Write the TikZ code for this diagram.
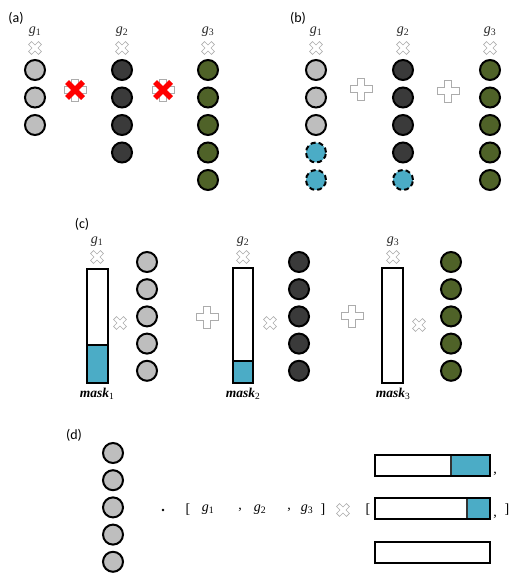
\documentclass[tikz,border=0pt]{standalone}
\usepackage{fontspec}
\setmainfont{Liberation Serif}
\newfontfamily\panelfont{Carlito}
\usepackage{xcolor}
\usetikzlibrary{positioning}

\definecolor{lgray}{HTML}{BEBEBE}
\definecolor{dgray}{HTML}{3A3A3A}
\definecolor{oliveg}{HTML}{4F6228}
\definecolor{maskblue}{HTML}{4BACC6}

\tikzset{
  unit/.style={circle, draw=black, line width=2pt, minimum size=20pt, inner sep=0pt},
  dropped/.style={unit, fill=maskblue, dash pattern=on 5pt off 3pt},
  panel/.style={font=\panelfont\fontsize{14}{14}\selectfont},
  glabel/.style={font=\fontsize{14}{14}\selectfont, text=black!85, inner sep=0pt},
  masklabel/.style={font=\bfseries\itshape\fontsize{13.5}{13.5}\selectfont, inner sep=0pt},
  sym/.style={font=\fontsize{14}{14}\selectfont, inner sep=0pt},
  maskbar/.style={draw=black, line width=2pt},
  opline/.style={draw=gray!65, fill=white, line width=0.6pt},
}

% outlined plus / cross sign: x, y, size, angle
\newcommand{\opsign}[4]{%
  \draw[opline, shift={(#1,#2)}, rotate=#4, scale=#3]
    (-0.3,-1) -- (0.3,-1) -- (0.3,-0.3) -- (1,-0.3) -- (1,0.3) -- (0.3,0.3)
    -- (0.3,1) -- (-0.3,1) -- (-0.3,0.3) -- (-1,0.3) -- (-1,-0.3) -- (-0.3,-0.3) -- cycle;}
\newcommand{\gname}[1]{\textit{g}\textsubscript{#1}}

\begin{document}
\begin{tikzpicture}[x=1pt, y=-1pt]
\useasboundingbox (0,0) rectangle (518,575);

% ---------------- (a) ----------------
\node[panel] (lab-a) at (16,18) {(a)};
\foreach \gx/\gi in {35/1, 122/2, 208/3}{
  \node[glabel] (ga\gi) at (\gx,32) {\gname{\gi}};
  \opsign{\gx}{48}{7}{45}
}
\foreach \k in {1,2,3}{\node[unit, fill=lgray] (a1-\k) at (35, 42.5+27.5*\k) {};}
\foreach \k in {1,...,4}{\node[unit, fill=dgray] (a2-\k) at (122, 42.5+27.5*\k) {};}
\foreach \k in {1,...,5}{\node[unit, fill=oliveg] (a3-\k) at (208, 42.5+27.5*\k) {};}
% rejected sums
\foreach \cx in {75, 163}{
  \opsign{\cx}{90}{11}{0}
  \draw[red, line width=5.5pt] (\cx-8,82) -- (\cx+8,98) (\cx-8,98) -- (\cx+8,82);
}

% ---------------- (b) ----------------
\node[panel] (lab-b) at (298,18) {(b)};
\foreach \gx/\gi in {316/1, 403/2, 490/3}{
  \node[glabel] (gb\gi) at (\gx,32) {\gname{\gi}};
  \opsign{\gx}{48}{7}{45}
}
\foreach \k in {1,2,3}{\node[unit, fill=lgray] (b1-\k) at (316, 42.5+27.5*\k) {};}
\foreach \k in {4,5}{\node[dropped] (b1-\k) at (316, 42.5+27.5*\k) {};}
\foreach \k in {1,...,4}{\node[unit, fill=dgray] (b2-\k) at (403, 42.5+27.5*\k) {};}
\node[dropped] (b2-5) at (403, 180) {};
\foreach \k in {1,...,5}{\node[unit, fill=oliveg] (b3-\k) at (490, 42.5+27.5*\k) {};}
\opsign{361}{89}{11}{0}
\opsign{448}{91}{11}{0}

% ---------------- (c) ----------------
\node[panel] (lab-c) at (82,224) {(c)};
\foreach \gx/\gi in {97/1, 243/2, 393/3}{
  \node[glabel] (gc\gi) at (\gx,242) {\gname{\gi}};
  \opsign{\gx}{257}{7}{45}
  \node[masklabel] (mask\gi) at (\gx,394) {mask\textsubscript{\upshape\mdseries\gi}};
}
% mask bars
\fill[maskblue] (87,345) rectangle (108,383);
\draw[black, line width=1.5pt] (87,345) -- (108,345);
\draw[maskbar] (87,269) rectangle (108,383);
\fill[maskblue] (233,361) rectangle (253,383);
\draw[black, line width=1.5pt] (233,361) -- (253,361);
\draw[maskbar] (233,268) rectangle (253,383);
\draw[maskbar] (382,268) rectangle (403,383);
% signs
\opsign{120}{323}{7}{45}
\opsign{270}{323}{7}{45}
\opsign{419}{325}{7}{45}
\opsign{207}{317}{11}{0}
\opsign{352}{316}{11}{0}
% units
\foreach \k in {1,...,5}{
  \node[unit, fill=lgray] (c1-\k) at (147, 234.8+27.2*\k) {};
  \node[unit, fill=dgray] (c2-\k) at (299, 234.8+27.2*\k) {};
  \node[unit, fill=oliveg] (c3-\k) at (451, 234.8+27.2*\k) {};
}

% ---------------- (d) ----------------
\node[panel] (lab-d) at (74,435) {(d)};
\foreach \k in {1,...,5}{\node[unit, fill=lgray] (d-\k) at (113, 425.8+27.2*\k) {};}
\fill (163,510) circle (1.3);
\foreach \sx/\stxt [count=\si] in {188/{[}, 208/\gname{1}, 240/{,}, 260/\gname{2}, 289/{,}, 307/\gname{3}, 323/{]}}{
  \node[sym] (ds\si) at (\sx,510) {\stxt};
}
\opsign{343}{510}{7}{45}
\node[sym] (lbr) at (368,510) {[};
\node[sym] (rbr) at (507,510) {]};
% mask vectors
\fill[maskblue] (451,455) rectangle (490,476);
\draw[black!80, line width=1.2pt] (451,455) -- (451,476);
\draw[maskbar] (375,455) rectangle (490,476);
\node[sym] (cm1) at (495,474) {,};
\fill[maskblue] (467,498) rectangle (490,519);
\draw[black!80, line width=1.2pt] (467,498) -- (467,519);
\draw[maskbar] (375,498) rectangle (490,519);
\node[sym] (cm2) at (495,517) {,};
\draw[maskbar] (375,542) rectangle (490,563);
\end{tikzpicture}
\end{document}
